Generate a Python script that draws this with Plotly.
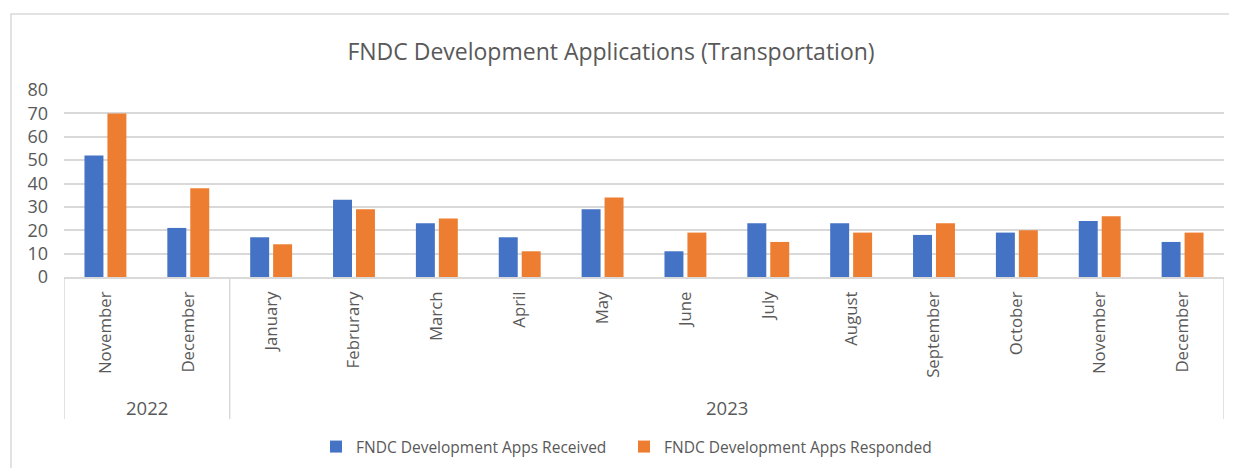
import plotly.graph_objects as go

years = ["2022", "2022", "2023", "2023", "2023", "2023", "2023", "2023",
         "2023", "2023", "2023", "2023", "2023", "2023"]
months = ["November", "December", "January", "Februrary", "March", "April", "May",
          "June", "July", "August", "September", "October", "November", "December"]
received = [52, 21, 17, 33, 23, 17, 29, 11, 23, 23, 18, 19, 24, 15]
responded = [70, 38, 14, 29, 25, 11, 34, 19, 15, 19, 23, 20, 26, 19]
yticks = [0, 10, 20, 30, 40, 50, 60, 70, 80]

OFF = 8  # page body margin offset
W, H = 1237 - OFF, 468 - OFF
# plot area in page pixels: left 64, right 1224, top 90, bottom 277
PL, PR, PT, PB = 64, 1224, 90, 277
L, R, T, B = PL - OFF, W - (PR - OFF), PT - OFF, H - (PB - OFF)
pw, ph = W - L - R, H - T - B

def px(x):  # page x -> paper
    return (x - OFF - L) / pw

def py(y):  # page y -> paper
    return (H - B - (y - OFF)) / ph

FONT = "'Open Sans', 'Noto Sans', sans-serif"
GREY = "#595959"
LINE = "#D9D9D9"

pos = list(range(len(months)))

fig = go.Figure()
fig.add_trace(go.Bar(x=pos, y=received, name="FNDC Development Apps Received",
                     marker=dict(color="#4472C4", line=dict(width=0))))
fig.add_trace(go.Bar(x=pos, y=responded, name="FNDC Development Apps Responded",
                     marker=dict(color="#ED7D31", line=dict(width=0))))

fig.update_layout(
    width=W, height=H,
    margin=dict(l=L, r=R, t=T, b=B, autoexpand=False),
    paper_bgcolor="white", plot_bgcolor="white",
    barmode="group", bargap=0.446, bargroupgap=0.174,
    font=dict(family=FONT, color=GREY, size=16),
    title=dict(text="FNDC Development Applications (Transportation)", xref="container",
               x=(611 - OFF) / W, xanchor="center",
               y=1 - (52 - OFF) / H, yanchor="middle", font=dict(size=23, color=GREY, family=FONT)),
    legend=dict(orientation="h", x=px(357 - 41), xanchor="left", y=py(447), yanchor="middle",
                font=dict(size=15.5, color=GREY), traceorder="normal", entrywidth=263,
                bgcolor="rgba(0,0,0,0)"),
    showlegend=True,
)
fig.update_yaxes(range=[0, 80], tickvals=yticks, showgrid=True, gridcolor=LINE, gridwidth=1.5,
                 zeroline=False, showline=False, ticks="", tickfont=dict(size=18, color=GREY),
                 ticklabelstandoff=15)
fig.update_xaxes(range=[-0.5, len(months) - 0.5], tickvals=pos, ticktext=months, tickangle=-90,
                 showgrid=False, zeroline=False, showline=True, linecolor=LINE, linewidth=1.5,
                 ticks="", tickfont=dict(size=16.8, color=GREY), ticklabelstandoff=6)

# group dividers and year labels from the data
groups = []
for i, yv in enumerate(years):
    if not groups or groups[-1][0] != yv:
        groups.append([yv, i, i])
    else:
        groups[-1][2] = i
bounds = sorted({g[1] - 0.5 for g in groups} | {g[2] + 0.5 for g in groups})
for b in bounds:
    fig.add_shape(type="line", xref="x", yref="paper", x0=b, x1=b, y0=0, y1=py(419),
                  line=dict(color=LINE, width=1.5))
for yv, a, b in groups:
    fig.add_annotation(x=(a + b) / 2, xref="x", y=py(407), yref="paper", text=yv, showarrow=False,
                       font=dict(size=18.5, color=GREY, family=FONT), xanchor="center", yanchor="middle")

# chart border
fig.add_shape(type="rect", xref="paper", yref="paper", x0=px(11), x1=px(1250), y0=py(480), y1=py(14),
              line=dict(color=LINE, width=1.5), fillcolor="rgba(0,0,0,0)", layer="below")

fig.write_html("out.html")
